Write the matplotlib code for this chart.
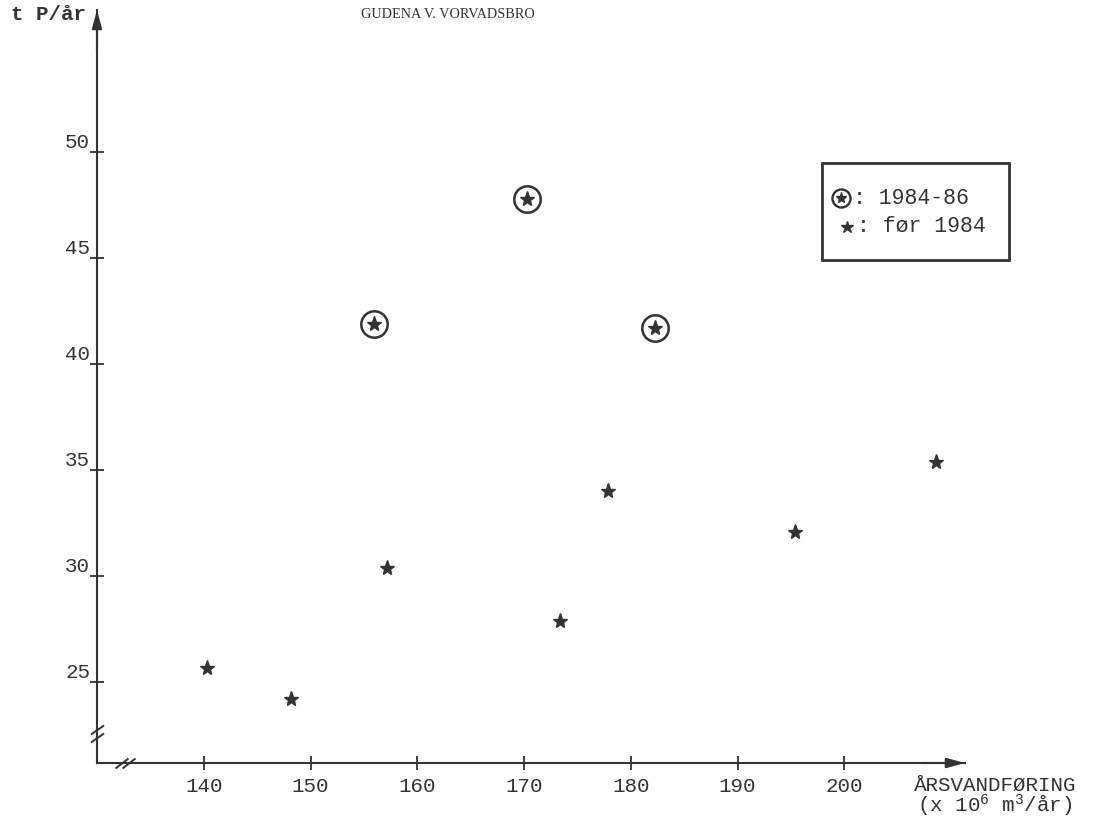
import numpy as np
import matplotlib
matplotlib.use('Agg')
import matplotlib.pyplot as plt
from matplotlib.lines import Line2D
from matplotlib.patches import Rectangle
from matplotlib.path import Path

'''
GUDENA v. Vorvadsbro: yearly phosphorus transport vs yearly water discharge
'''

# data
pre1984_flow = [140.3, 148.2, 157.2, 173.4, 177.9, 195.4, 208.6]
pre1984_p = [25.7, 24.2, 30.4, 27.9, 34.0, 32.1, 35.4]
y8486_flow = [155.9, 170.3, 182.3]
y8486_p = [41.9, 47.8, 41.7]

xticks = [140, 150, 160, 170, 180, 190, 200]
yticks = [25, 30, 35, 40, 45, 50]
legend_labels = [': 1984-86', ': før 1984']

ink = '#333333'
W, H = 1093, 826

plt.rcParams['font.family'] = ['Liberation Mono', 'DejaVu Sans Mono']
plt.rcParams['mathtext.default'] = 'regular'

fig = plt.figure(figsize=(W / 100, H / 100), dpi=100)
fig.patch.set_facecolor('white')

ax = fig.add_axes([97 / W, (H - 763) / H, (965 - 97) / W, (763 - 10) / H])
ax.patch.set_alpha(0)
x0, x1 = 130, 211.3
y0, y1 = 21.2, 56.7
ax.set_xlim(x0, x1)
ax.set_ylim(y0, y1)

for s in ['top', 'right']:
    ax.spines[s].set_visible(False)
for s in ['left', 'bottom']:
    ax.spines[s].set_linewidth(1.5)
    ax.spines[s].set_color(ink)

ax.set_xticks(xticks)
ax.set_yticks(yticks)
ax.set_yticklabels([])
ax.tick_params(axis='both', direction='inout', length=10, width=1.3, color=ink)
ax.tick_params(axis='x', labelsize=15, labelcolor=ink, pad=5)

# y labels sit just above their tick, typewriter style
for v in yticks:
    ax.annotate(str(v), xy=(x0, v), xytext=(-5, 3), textcoords='offset points',
                ha='right', va='baseline', fontsize=15, color=ink,
                annotation_clip=False)

# arrow heads
arr = dict(arrowstyle='-|>,head_length=1.1,head_width=0.3', color=ink, lw=1.5,
           shrinkA=0, shrinkB=0)
ax.annotate('', xy=(x0, y1), xytext=(x0, y1 - 2), arrowprops=arr, annotation_clip=False)
ax.annotate('', xy=(x1, y0), xytext=(x1 - 4, y0), arrowprops=arr, annotation_clip=False)

# axis break marks
xbreak = Path([(-10, -5), (3, 5), (-3, -5), (10, 5)],
              [Path.MOVETO, Path.LINETO, Path.MOVETO, Path.LINETO])
ybreak = Path([(-6.5, 0), (6.5, 9), (-6.5, -8), (6.5, 1)],
              [Path.MOVETO, Path.LINETO, Path.MOVETO, Path.LINETO])
ax.plot([132.6], [y0], marker=xbreak, ms=14.4, mfc='none', mec=ink, mew=1.4,
        ls='none', clip_on=False)
ax.plot([x0], [22.55], marker=ybreak, ms=13, mfc='none', mec=ink, mew=1.4,
        ls='none', clip_on=False)

# points
ax.plot(pre1984_flow, pre1984_p, ls='none', marker='*', ms=11, color=ink, clip_on=False)
ax.plot(y8486_flow, y8486_p, ls='none', marker='o', ms=19, mfc='none', mec=ink,
        mew=1.8, clip_on=False)
ax.plot(y8486_flow, y8486_p, ls='none', marker='*', ms=11, color=ink, clip_on=False)

# texts
fig.text(448 / W, 1 - 15 / H, 'GUDENA V. VORVADSBRO', family='Liberation Serif',
         fontsize=10.3, color=ink, ha='center', va='center')
fig.text(11 / W, 1 - 15 / H, 't P/år', fontsize=15, fontweight='bold', color=ink,
         ha='left', va='center')
fig.text(995 / W, 1 - 785 / H, 'ÅRSVANDFØRING', fontsize=15, color=ink,
         ha='center', va='center')
fig.text(995 / W, 1 - 806 / H, '(x 10$^6$ m$^3$/år)', fontsize=15, color=ink,
         ha='center', va='center')

# legend box, drawn by hand to get the typed layout
tf = fig.transFigure
fig.add_artist(Rectangle((822 / W, 1 - 260 / H), 187 / W, 97 / H, transform=tf,
                         fill=False, lw=2, edgecolor=ink))
fig.add_artist(Line2D([841 / W], [1 - 198 / H], transform=tf, ls='none', marker='o',
                      ms=13, mfc='none', mec=ink, mew=1.7))
fig.add_artist(Line2D([841 / W], [1 - 198 / H], transform=tf, ls='none', marker='*',
                      ms=8, color=ink))
fig.add_artist(Line2D([847 / W], [1 - 227 / H], transform=tf, ls='none', marker='*',
                      ms=9, color=ink))
fig.text(853 / W, 1 - 198 / H, legend_labels[0], fontsize=15.5, color=ink,
         ha='left', va='center')
fig.text(857 / W, 1 - 227 / H, legend_labels[1], fontsize=15.5, color=ink,
         ha='left', va='center')

fig.savefig('out.png', dpi=100)
